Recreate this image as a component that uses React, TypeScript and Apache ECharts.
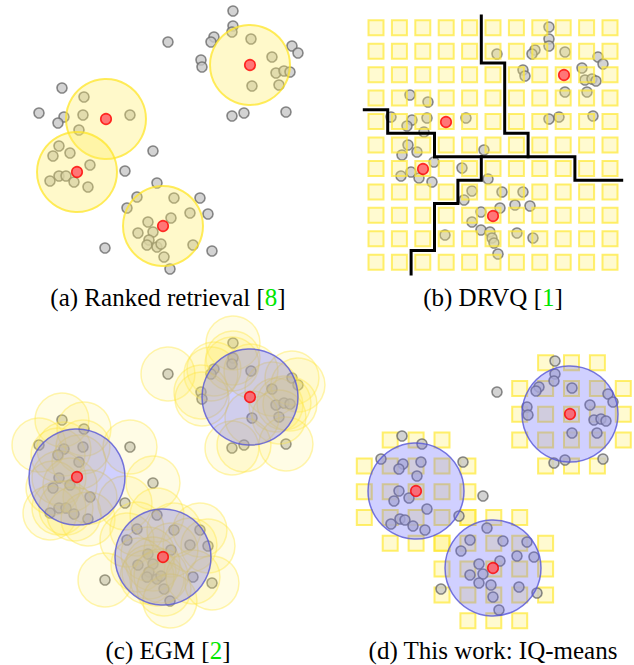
import React, { useEffect, useRef } from "react";
import * as echarts from "echarts";

// ---------- Data ----------
// Panels (a) and (c): same point set (panel-local coordinates)
const pointsAC: number[][] = [
  [233, 11], [233, 26], [232, 32], [214, 37], [211, 42], [168, 42], [201, 60], [202, 67], [251, 39], [272, 57],
  [292, 46], [298, 53], [276, 73], [284, 71], [290, 72], [279, 85], [252, 86], [286, 112], [232, 116], [244, 113],
  [62, 88], [39, 113], [64, 117], [58, 123], [84, 97], [83, 115], [79, 130], [130, 115],
  [59, 146], [53, 156], [70, 153], [90, 165], [50, 181], [59, 176], [66, 176], [74, 182], [88, 187], [153, 151], [125, 171],
  [157, 183], [137, 197], [127, 208], [174, 198], [200, 198], [190, 213], [208, 214], [171, 218], [148, 222], [153, 232],
  [138, 233], [149, 240], [147, 245], [157, 247], [161, 244], [193, 245], [164, 257], [170, 269], [105, 248], [212, 251],
];
const centersA: number[][] = [[250, 65], [106, 119], [77, 172], [163, 226]];
const radiusA = 40;
const centersC: number[][] = [[250, 65], [77, 145], [163, 225]];
const radiusPointC = 27;
const radiusBlue = 48;

// Panel (b)
const pointsB: number[][] = [
  [549, 27], [549, 39], [549, 46], [535, 50], [532, 54], [497, 54], [565, 52], [523, 70], [525, 76], [598, 57],
  [603, 64], [582, 68], [585, 80], [592, 79], [596, 81], [565, 92], [587, 92], [549, 119], [559, 117], [593, 116],
  [410, 95], [428, 102], [391, 117], [412, 120], [407, 126], [427, 118], [424, 132], [466, 118],
  [408, 145], [402, 155], [417, 152], [434, 162], [401, 176], [411, 172], [419, 178], [432, 182], [484, 150], [462, 168],
  [488, 179], [472, 191], [464, 200], [502, 192], [523, 192], [515, 205], [530, 206], [500, 208], [481, 212], [472, 222],
  [481, 230], [490, 232], [492, 238], [494, 243], [498, 254], [517, 233], [533, 238], [445, 235],
];
const centersB: number[][] = [[564, 75], [446, 122], [423, 169], [493, 216]];
const gridCellsB = 11;
// staircase boundaries in grid-cell indices
const stairsB: number[][][] = [
  [[5, 0], [5, 2], [6, 2], [6, 5], [7, 5], [7, 6]],
  [[3, 6], [9, 6], [9, 7], [11, 7]],
  [[0, 4], [1, 4], [1, 5], [3, 5], [3, 6]],
  [[5, 6], [5, 7], [4, 7], [4, 8], [3, 8], [3, 10], [2, 10], [2, 11]],
];

// Panel (d)
const pointsD: number[][] = [
  [555, 361], [555, 374], [554, 381], [539, 387], [536, 391], [497, 392], [572, 388], [527, 407], [528, 415], [608, 394],
  [613, 402], [590, 405], [594, 420], [601, 419], [606, 421], [572, 433], [597, 433], [554, 463], [565, 460], [603, 459],
  [402, 436], [422, 444], [381, 459], [403, 464], [399, 469], [421, 462], [417, 476], [463, 462], [399, 491], [394, 501],
  [409, 498], [427, 509], [391, 524], [400, 519], [405, 520], [413, 526], [425, 530], [483, 496], [459, 516],
  [487, 528], [470, 540], [461, 551], [503, 541], [527, 542], [517, 556], [534, 557], [500, 561], [479, 564], [470, 575],
  [483, 574], [479, 583], [491, 585], [493, 597], [499, 610], [519, 587], [537, 593], [441, 589],
];
const centersD: number[][] = [[570, 414], [416, 491], [493, 568]];
const clusterCellsD: number[][] = [[8, 2], [2, 5], [5, 8]];

const captionTexts = ["(a) Ranked retrieval ", "(b) DRVQ ", "(c) EGM ", "(d) This work: IQ-means"];
const captionRefs = ["8", "1", "2", ""];

// ---------- Layout / style constants ----------
const B_X0 = 364.3, B_PX = 23.4, B_Y0 = 16, B_PY = 23.45;
const D_X0 = 364.3, D_PX = 25.9, D_Y0 = 362.7, D_PY = 25.8;
const SQ = 15;
const FONT = '"Liberation Serif", "Times New Roman", serif';

const panels = [
  { left: 0, top: 0, xr: [0, 317], yr: [0, 280] },
  { left: 317, top: 0, xr: [317, 634], yr: [0, 280] },
  { left: 0, top: 332, xr: [0, 317], yr: [0, 280] },
  { left: 317, top: 332, xr: [317, 634], yr: [332, 612] },
];
const captionPos = [[168, 297], [493, 297], [168, 650], [493, 650]];

const grayStyle = { color: "#c8c8c8", borderColor: "#6c6c6c", borderWidth: 1.6 };
const redStyle = { color: "#ff5560", borderColor: "#ff0000", borderWidth: 1.6 };
const yellowBig = { fill: "rgba(255,238,100,0.34)", stroke: "rgba(255,230,40,0.75)", lineWidth: 2 };
const yellowSmall = { fill: "rgba(255,238,100,0.17)", stroke: "rgba(255,230,60,0.4)", lineWidth: 1.5 };
const blueStyle = { fill: "rgba(100,100,255,0.3)", stroke: "rgba(85,85,215,0.8)", lineWidth: 1.5 };
const squareStyle = { fill: "rgba(255,240,110,0.32)", stroke: "rgba(255,232,50,0.7)", lineWidth: 2 };

function circleSeries(idx: number, data: number[][], r: number, style: any, z: number) {
  return {
    type: "custom",
    xAxisIndex: idx,
    yAxisIndex: idx,
    z,
    silent: true,
    clip: false,
    data,
    renderItem: (_p: any, api: any) => {
      const c = api.coord([api.value(0), api.value(1)]);
      const rr = Math.abs(api.size([r, r])[0]);
      return { type: "circle", shape: { cx: c[0], cy: c[1], r: rr }, style };
    },
  };
}

function squareSeries(idx: number, data: number[][], z: number) {
  return {
    type: "custom",
    xAxisIndex: idx,
    yAxisIndex: idx,
    z,
    silent: true,
    clip: false,
    data,
    renderItem: (_p: any, api: any) => {
      const c = api.coord([api.value(0), api.value(1)]);
      const s = api.size([SQ, SQ]);
      const w = Math.abs(s[0]), h = Math.abs(s[1]);
      return { type: "rect", shape: { x: c[0] - w / 2, y: c[1] - h / 2, width: w, height: h }, style: squareStyle };
    },
  };
}

function scatterSeries(idx: number, data: number[][], style: any, size: number, z: number) {
  return {
    type: "scatter",
    xAxisIndex: idx,
    yAxisIndex: idx,
    z,
    silent: true,
    clip: false,
    symbolSize: size,
    itemStyle: style,
    data,
  };
}

export default function App() {
  const ref = useRef<HTMLDivElement>(null);
  useEffect(() => {
    document.body.style.margin = "0";
    if (!ref.current) return;
    const chart = echarts.init(ref.current, undefined, { renderer: "svg" });

    const squaresB: number[][] = [];
    for (let i = 0; i < gridCellsB; i++)
      for (let j = 0; j < gridCellsB; j++)
        squaresB.push([B_X0 + B_PX * (i + 0.5), B_Y0 + B_PY * (j + 0.5)]);

    const squaresD: number[][] = [];
    clusterCellsD.forEach(([ci, cj]) => {
      for (let dx = -2; dx <= 2; dx++)
        for (let dy = -2; dy <= 2; dy++) {
          if (Math.abs(dx) === 2 && Math.abs(dy) === 2) continue;
          squaresD.push([D_X0 + D_PX * (ci + dx), D_Y0 + D_PY * (cj + dy)]);
        }
    });

    const stairSeries = stairsB.map((line) => ({
      type: "line",
      xAxisIndex: 1,
      yAxisIndex: 1,
      z: 5,
      silent: true,
      clip: false,
      symbol: "none",
      showSymbol: false,
      lineStyle: { color: "#000", width: 3, cap: "square", join: "miter" },
      data: line.map(([kx, ky]) => [B_X0 + B_PX * kx, B_Y0 + B_PY * ky]),
    }));

    const series: any[] = [
      // (a)
      scatterSeries(0, pointsAC, grayStyle, 10, 2),
      circleSeries(0, centersA, radiusA, yellowBig, 3),
      scatterSeries(0, centersA, redStyle, 10.6, 6),
      // (b)
      scatterSeries(1, pointsB, grayStyle, 10, 2),
      squareSeries(1, squaresB, 3),
      ...stairSeries,
      scatterSeries(1, centersB, redStyle, 10.6, 6),
      // (c)
      scatterSeries(2, pointsAC, grayStyle, 10, 2),
      circleSeries(2, pointsAC, radiusPointC, yellowSmall, 3),
      circleSeries(2, centersC, radiusBlue, blueStyle, 4),
      scatterSeries(2, centersC, redStyle, 10.6, 6),
      // (d)
      squareSeries(3, squaresD, 1),
      scatterSeries(3, pointsD, grayStyle, 10, 2),
      circleSeries(3, centersD, radiusBlue, blueStyle, 4),
      scatterSeries(3, centersD, redStyle, 10.6, 6),
    ];

    chart.setOption({
      animation: false,
      grid: panels.map((p) => ({ left: p.left, top: p.top, width: 317, height: 280 })),
      xAxis: panels.map((p, i) => ({
        type: "value", gridIndex: i, min: p.xr[0], max: p.xr[1], show: false, splitLine: { show: false },
      })),
      yAxis: panels.map((p, i) => ({
        type: "value", gridIndex: i, min: p.yr[0], max: p.yr[1], inverse: true, show: false, splitLine: { show: false },
      })),
      series,
      graphic: captionTexts.map((t, i) => ({
        type: "text",
        x: captionPos[i][0],
        y: captionPos[i][1],
        z: 10,
        silent: true,
        style: {
          text: captionRefs[i] ? `${t}[{g|${captionRefs[i]}}]` : t,
          fontFamily: FONT,
          fontSize: 25,
          fill: "#000",
          align: "center",
          verticalAlign: "middle",
          rich: { g: { fill: "#00e600", fontFamily: FONT, fontSize: 25 } },
        },
      })),
    });
    return () => chart.dispose();
  }, []);
  return <div ref={ref} style={{ width: 634, height: 665 }} />;
}
